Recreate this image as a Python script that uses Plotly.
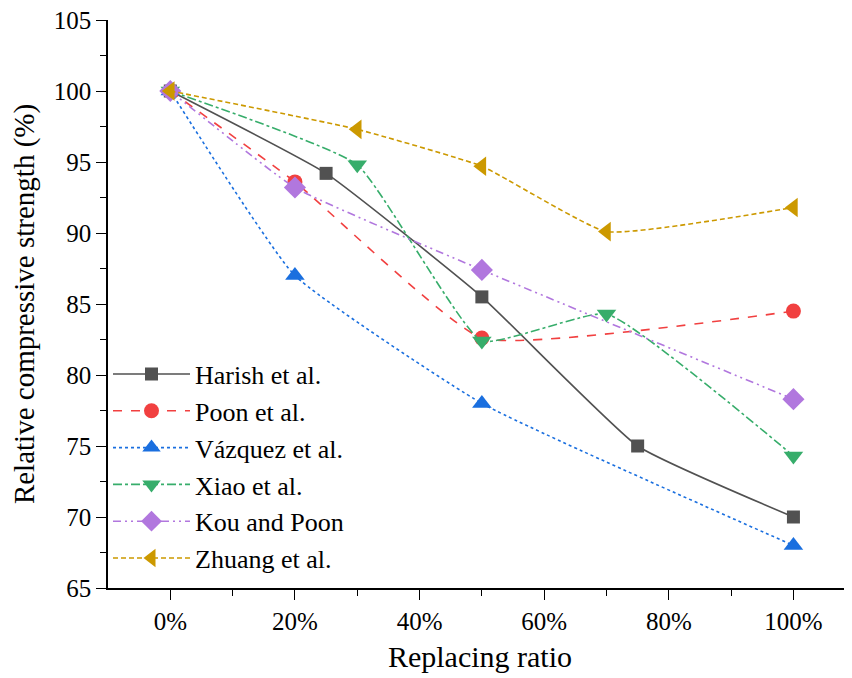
import plotly.graph_objects as go

harish_x = [0, 25, 50, 75, 100]
harish_y = [100, 94.2, 85.5, 75.0, 70.0]
poon_x = [0, 20, 50, 100]
poon_y = [100, 93.6, 82.6, 84.5]
vazquez_x = [0, 20, 50, 100]
vazquez_y = [100, 87.0, 78.0, 68.0]
xiao_x = [0, 30, 50, 70, 100]
xiao_y = [100, 94.8, 82.4, 84.3, 74.3]
kou_x = [0, 20, 50, 100]
kou_y = [100, 93.2, 87.4, 78.3]
zhuang_x = [0, 30, 50, 70, 100]
zhuang_y = [100, 97.3, 94.7, 90.1, 91.8]

x_tickvals = [0, 20, 40, 60, 80, 100]
x_ticktext = ["0%", "20%", "40%", "60%", "80%", "100%"]
y_tickvals = [65, 70, 75, 80, 85, 90, 95, 100, 105]

series = [
    ("Harish et al.", harish_x, harish_y, "#515151", "solid", "square", 13),
    ("Poon et al.", poon_x, poon_y, "#F14040", "dash", "circle", 15),
    ("Vázquez et al.", vazquez_x, vazquez_y, "#1A6FDF", "dot", "triangle-up", 17),
    ("Xiao et al.", xiao_x, xiao_y, "#37AD6B", "dashdot", "triangle-down", 17),
    ("Kou and Poon", kou_x, kou_y, "#B177DE", "8px,4px,2px,4px,2px,4px", "diamond", 17),
    ("Zhuang et al.", zhuang_x, zhuang_y, "#CC9900", "5px,3px", "triangle-left", 17),
]

fig = go.Figure()
for name, xs, ys, col, dash, sym, sz in series:
    fig.add_trace(go.Scatter(
        x=xs, y=ys, name=name, mode="lines+markers",
        line=dict(color=col, dash=dash, width=1.6, shape="spline", smoothing=0.4),
        marker=dict(symbol=sym, color=col, size=sz, line=dict(width=0)),
    ))

ff = "Liberation Serif"
fig.update_layout(
    width=844, height=670,
    margin=dict(l=100, r=0, t=12, b=90, autoexpand=False),
    plot_bgcolor="white", paper_bgcolor="white",
    font=dict(family=ff, size=25, color="black"),
    showlegend=True,
    legend=dict(x=0.0, y=0.418, xanchor="left", yanchor="top",
                font=dict(family=ff, size=26, color="black"),
                bgcolor="rgba(0,0,0,0)", tracegroupgap=0, itemwidth=77),
    xaxis=dict(
        range=[-10, 109.4], tickvals=x_tickvals, ticktext=x_ticktext,
        ticks="outside", ticklen=10, tickwidth=1.3, tickcolor="black",
        showline=True, linecolor="black", linewidth=1.5, showgrid=False, zeroline=False,
        minor=dict(tickvals=[10, 30, 50, 70, 90], ticks="outside", ticklen=6, tickcolor="black", tickwidth=1.3),
        tickfont=dict(family=ff, size=25),
        ticklabeloverflow="allow",
        automargin=False,
        title=dict(text="Replacing ratio", font=dict(family=ff, size=30), standoff=12),
    ),
    yaxis=dict(
        range=[65, 105], tickvals=y_tickvals,
        ticks="outside", ticklen=10, tickwidth=1.3, tickcolor="black",
        showline=True, linecolor="black", linewidth=1.5, showgrid=False, zeroline=False,
        minor=dict(dtick=2.5, ticks="outside", ticklen=6, tickcolor="black", tickwidth=1.3),
        tickfont=dict(family=ff, size=25),
        ticklabeloverflow="allow",
        automargin=False,
        title=dict(text="Relative compressive strength (%)", font=dict(family=ff, size=29), standoff=12),
    ),
)

fig.write_html("out.html")
